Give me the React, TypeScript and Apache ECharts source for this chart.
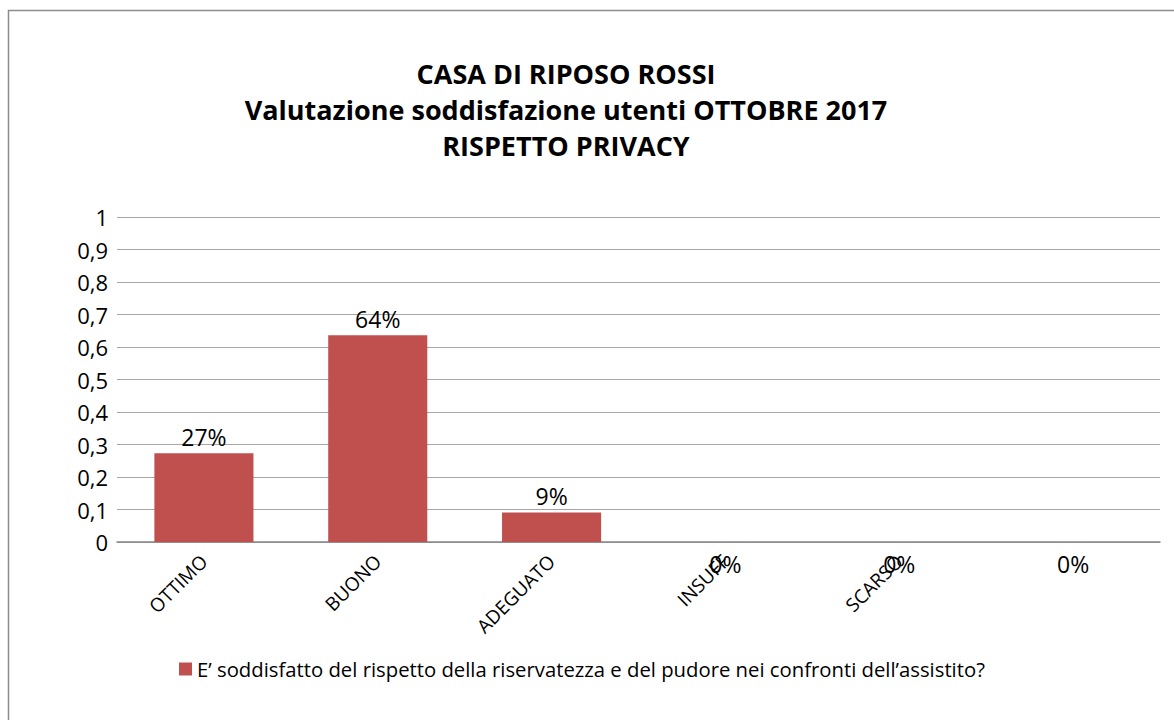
import React, { useEffect, useRef } from "react";
import * as echarts from "echarts";

const categories = ["OTTIMO", "BUONO", "ADEGUATO", "INSUFF", "SCARSO", ""];
const values = [0.2727, 0.6364, 0.0909, 0, 0, 0];
const seriesName =
  "E\u2019 soddisfatto del rispetto della riservatezza e del pudore nei confronti dell\u2019assistito?";
const titleLines = [
  "CASA DI RIPOSO ROSSI",
  "Valutazione soddisfazione utenti OTTOBRE 2017",
  "RISPETTO PRIVACY",
];

const FONT = "'Open Sans', 'Noto Sans', sans-serif";

export default function App() {
  const ref = useRef<HTMLDivElement>(null);
  useEffect(() => {
    if (!ref.current) return;
    const chart = echarts.init(ref.current, undefined, { renderer: "svg" });
    chart.setOption({
      animation: false,
      backgroundColor: "#ffffff",
      textStyle: { fontFamily: FONT },
      title: {
        text: titleLines.join("\n"),
        left: 561,
        textAlign: "center",
        top: 50,
        textStyle: {
          fontFamily: FONT,
          fontSize: 27,
          fontWeight: "bold",
          color: "#000",
          lineHeight: 36,
        },
      },
      graphic: [
        {
          type: "rect",
          shape: { x: 8.5, y: 10.5, width: 1200, height: 800 },
          style: { fill: "none", stroke: "#8c8c8c", lineWidth: 1.5 },
          silent: true,
        },
      ],
      legend: {
        left: 174,
        top: 654,
        itemWidth: 13,
        itemHeight: 13,
        itemGap: 8,
        icon: "rect",
        textStyle: { fontFamily: FONT, fontSize: 20.3, color: "#000" },
        data: [seriesName],
      },
      grid: { left: 117, right: 14, top: 217, bottom: 178 },
      xAxis: {
        type: "category",
        data: categories,
        axisLine: { lineStyle: { color: "#868686", width: 1.5 } },
        axisTick: { show: false },
        axisLabel: {
          interval: 0,
          rotate: 45,
          margin: 16,
          fontFamily: FONT,
          fontSize: 19,
          color: "#000",
        },
      },
      yAxis: {
        type: "value",
        min: 0,
        max: 1,
        interval: 0.1,
        axisLine: { show: false },
        axisTick: { show: false },
        splitLine: { lineStyle: { color: "#a6a6a6", width: 1 } },
        axisLabel: {
          margin: 9,
          fontFamily: FONT,
          fontSize: 22,
          color: "#000",
          formatter: (v: number) => String(Number(v.toFixed(1))).replace(".", ","),
        },
      },
      series: [
        {
          name: seriesName,
          type: "bar",
          barWidth: "57%",
          itemStyle: { color: "#C0504D" },
          data: values.map((v) => ({
            value: v,
            label: {
              show: true,
              position: v === 0 ? "bottom" : "top",
              distance: v === 0 ? 10 : 5,
              fontFamily: FONT,
              fontSize: 23,
              color: "#000",
              formatter: () => Math.round(v * 100) + "%",
            },
          })),
        },
      ],
    });
    return () => chart.dispose();
  }, []);
  return (
    <div
      ref={ref}
      style={{ position: "fixed", left: 0, top: 0, width: 1174, height: 720 }}
    />
  );
}
